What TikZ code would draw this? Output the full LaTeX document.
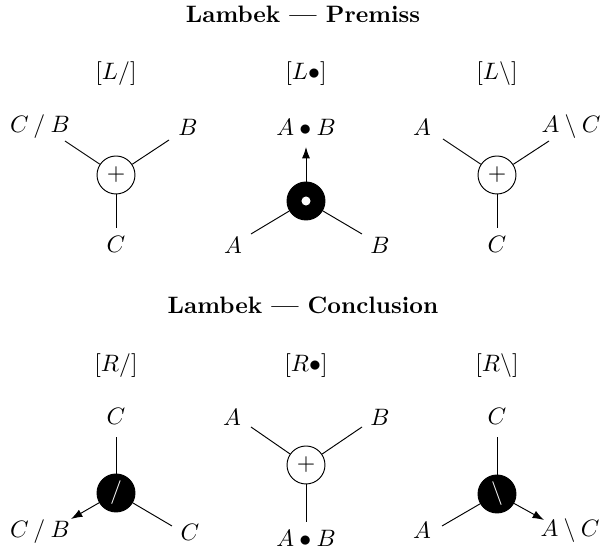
\documentclass[tikz,border=0pt]{standalone}
\usetikzlibrary{arrows.meta}
\begin{document}
\begin{tikzpicture}[x=0.4212pt,y=-0.4212pt,
  lbl/.style={inner sep=0.3333em},
  ttl/.style={font=\bfseries},
  wnode/.style={circle,draw,line width=0.4pt,fill=white,minimum size=16pt,inner sep=0pt},
  bnode/.style={circle,draw,fill=black,minimum size=16pt,inner sep=0pt,text=white},
  conn/.style={line width=0.4pt},
  arr/.style={line width=0.4pt,-{Latex[length=4.8pt,width=3.4pt]}}]
\useasboundingbox (0,0) rectangle (603,556);

% ---------- Premiss ----------
\node[ttl] (t1) at (303,14) {Lambek --- Premiss};
\node (h1) at (116,74) {$[L/]$};
\node (h2) at (306,74) {$[L\bullet]$};
\node (h3) at (497,74) {$[L\backslash]$};

% L/
\node[wnode] (p1) at (116,175) {$+$};
\node[lbl] (p1a) at (40,127) {$C \mathbin{/} B$};
\node[lbl] (p1b) at (188,127) {$B$};
\node[lbl] (p1c) at (116,244) {$C$};
\coordinate (p1ae) at (65,141);
\coordinate (p1be) at (169,140);
\coordinate (p1ce) at (116,228);
\draw[conn] (p1) -- (p1ae);
\draw[conn] (p1) -- (p1be);
\draw[conn] (p1) -- (p1ce);

% L bullet
\node[bnode] (p2) at (306,201) {};
\fill[white] (p2.center) circle (1.9pt);
\node[lbl] (p2t) at (306,127) {$A \bullet B$};
\node[lbl] (p2a) at (233,245) {$A$};
\node[lbl] (p2b) at (380,245) {$B$};
\coordinate (p2te) at (306,147);
\coordinate (p2ae) at (251,234);
\coordinate (p2be) at (362,234);
\draw[arr] (p2) -- (p2te);
\draw[conn] (p2) -- (p2ae);
\draw[conn] (p2) -- (p2be);

% L backslash
\node[wnode] (p3) at (497,175) {$+$};
\node[lbl] (p3a) at (422,127) {$A$};
\node[lbl] (p3b) at (571,127) {$A \mathbin{\backslash} C$};
\node[lbl] (p3c) at (497,244) {$C$};
\coordinate (p3ae) at (443,139);
\coordinate (p3be) at (549,141);
\coordinate (p3ce) at (497,228);
\draw[conn] (p3) -- (p3ae);
\draw[conn] (p3) -- (p3be);
\draw[conn] (p3) -- (p3ce);

% ---------- Conclusion ----------
\node[ttl] (t2) at (303,305) {Lambek --- Conclusion};
\node (g1) at (116,366) {$[R/]$};
\node (g2) at (306,366) {$[R\bullet]$};
\node (g3) at (497,366) {$[R\backslash]$};

% R/
\node[bnode] (c1) at (116,493) {$/$};
\node[lbl] (c1t) at (116,416) {$C$};
\node[lbl] (c1a) at (40,532) {$C \mathbin{/} B$};
\node[lbl] (c1b) at (190,532) {$C$};
\coordinate (c1te) at (116,437);
\coordinate (c1ae) at (71,519);
\coordinate (c1be) at (172,526);
\draw[conn] (c1) -- (c1te);
\draw[arr] (c1) -- (c1ae);
\draw[conn] (c1) -- (c1be);

% R bullet
\node[wnode] (c2) at (306,465) {$+$};
\node[lbl] (c2a) at (232,417) {$A$};
\node[lbl] (c2b) at (380,417) {$B$};
\node[lbl] (c2c) at (306,538) {$A \bullet B$};
\coordinate (c2ae) at (251,427);
\coordinate (c2be) at (362,427);
\coordinate (c2ce) at (306,522);
\draw[conn] (c2) -- (c2ae);
\draw[conn] (c2) -- (c2be);
\draw[conn] (c2) -- (c2ce);

% R backslash
\node[bnode] (c3) at (497,494) {$\backslash$};
\node[lbl] (c3t) at (497,416) {$C$};
\node[lbl] (c3a) at (422,530) {$A$};
\node[lbl] (c3b) at (570,531) {$A \mathbin{\backslash} C$};
\coordinate (c3te) at (497,437);
\coordinate (c3ae) at (442,526);
\coordinate (c3be) at (544,520);
\draw[conn] (c3) -- (c3te);
\draw[conn] (c3) -- (c3ae);
\draw[arr] (c3) -- (c3be);
\end{tikzpicture}
\end{document}
